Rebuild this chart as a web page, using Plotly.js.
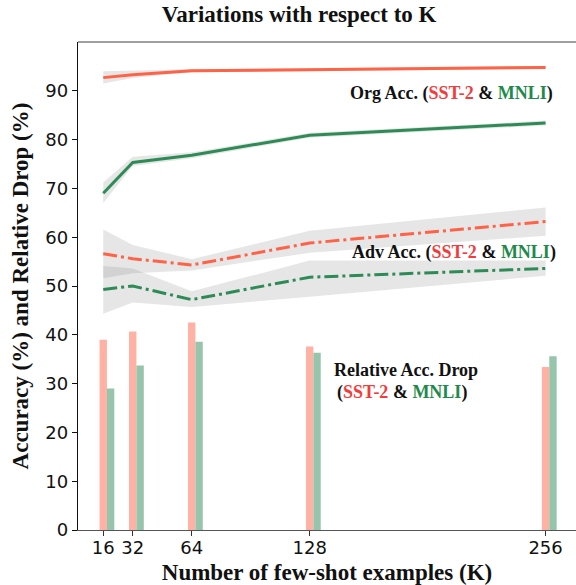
<!DOCTYPE html>
<html>
<head>
<meta charset="utf-8">
<script src="https://cdn.plot.ly/plotly-3.0.1.min.js"></script>
<style>html,body{margin:0;padding:0;background:#fff;}#chart{width:576px;height:585px;}</style>
</head>
<body>
<div id="chart"></div>
<script>
const K = [16, 32, 64, 128, 256];
const xTickLabels = ['16', '32', '64', '128', '256'];
const yTickVals = [0, 10, 20, 30, 40, 50, 60, 70, 80, 90];

const orgSST2   = [92.7, 93.3, 94.1, 94.3, 94.8];
const orgSST2Lo = [91.5, 92.6, 93.8, 94.0, 94.5];
const orgSST2Hi = [94.0, 94.1, 94.4, 94.6, 95.1];

const orgMNLI   = [69.0, 75.3, 76.8, 80.9, 83.4];
const orgMNLILo = [67.0, 74.6, 76.2, 80.4, 82.9];
const orgMNLIHi = [71.2, 76.5, 77.4, 81.4, 83.9];

const advSST2   = [56.6, 55.6, 54.3, 58.8, 63.2];
const advSST2Lo = [51.6, 52.6, 53.2, 56.8, 60.3];
const advSST2Hi = [61.6, 58.4, 55.5, 61.3, 66.1];

const advMNLI   = [49.3, 50.0, 47.2, 51.8, 53.6];
const advMNLILo = [44.3, 46.6, 45.7, 47.8, 52.1];
const advMNLIHi = [54.1, 53.6, 48.9, 55.2, 55.2];

const dropSST2 = [39.0, 40.7, 42.5, 37.6, 33.4];
const dropMNLI = [29.0, 33.7, 38.6, 36.3, 35.6];

const RED = 'rgb(255,99,71)';
const GREEN = 'rgb(46,139,87)';
const TXT_RED = '#f23c3c';
const TXT_GREEN = '#1e8a4c';
const SERIF = 'Liberation Serif';

function band(lo, hi) {
  return {
    type: 'scatter', mode: 'lines',
    x: K.concat(K.slice().reverse()),
    y: hi.concat(lo.slice().reverse()),
    fill: 'toself', fillcolor: 'rgba(128,128,128,0.2)',
    line: {width: 0}, hoverinfo: 'skip', showlegend: false
  };
}
function line(y, color, dash) {
  return {type: 'scatter', mode: 'lines', x: K, y: y,
    line: {color: color, width: 3, dash: dash}, showlegend: false};
}

const traces = [
  {type: 'bar', x: K, y: dropSST2, width: 4, offset: -2, marker: {color: 'rgb(255,177,163)', line: {width: 0}}, showlegend: false},
  {type: 'bar', x: K, y: dropMNLI, width: 4, offset: 2, marker: {color: 'rgb(150,197,171)', line: {width: 0}}, showlegend: false},
  band(orgSST2Lo, orgSST2Hi),
  band(orgMNLILo, orgMNLIHi),
  band(advSST2Lo, advSST2Hi),
  band(advMNLILo, advMNLIHi),
  line(orgSST2, RED, 'solid'),
  line(orgMNLI, GREEN, 'solid'),
  line(advSST2, RED, '14px,4px,3px,4px'),
  line(advMNLI, GREEN, '14px,4px,3px,4px')
];

const pair = '(<span style="color:' + TXT_RED + '">SST-2</span> &amp; <span style="color:' + TXT_GREEN + '">MNLI</span>)';
const annFont = {family: SERIF, size: 18, color: '#111', weight: 'bold'};

const layout = {
  width: 576, height: 585,
  margin: {l: 78, r: 0, t: 42, b: 55},
  paper_bgcolor: '#fff', plot_bgcolor: '#fff',
  barmode: 'overlay',
  showlegend: false,
  title: {text: 'Variations with respect to K', x: 0.444, xref: 'paper', xanchor: 'center',
          y: 0.976, yref: 'container', yanchor: 'middle',
          font: {family: SERIF, size: 23, color: '#111', weight: 'bold'}},
  xaxis: {range: [2.3, 272.5], tickvals: K, ticktext: xTickLabels,
          showgrid: false, zeroline: false, showline: true, linecolor: '#555', linewidth: 1.3,
          ticks: 'outside', ticklen: 5, tickcolor: '#333', tickwidth: 1, ticklabelstandoff: -4,
          tickfont: {family: 'DejaVu Sans', size: 18, color: '#111'},
          title: {text: 'Number of few-shot examples (K)', standoff: 9,
                  font: {family: SERIF, size: 23, color: '#111', weight: 'bold'}}},
  yaxis: {range: [0, 100], tickvals: yTickVals,
          showgrid: false, zeroline: false, showline: true, linecolor: '#111', linewidth: 1.3,
          ticks: 'outside', ticklen: 5, tickcolor: '#111', tickwidth: 1,
          tickfont: {family: 'DejaVu Sans', size: 18, color: '#111'},
          title: {text: 'Accuracy (%) and Relative Drop (%)', standoff: 10,
                  font: {family: SERIF, size: 23, color: '#111', weight: 'bold'}}},
  shapes: [{type: 'line', xref: 'paper', yref: 'paper', x0: 0, x1: 1, y0: 1, y1: 1,
            line: {color: '#808080', width: 1.5}}],
  annotations: [
    {xref: 'x', yref: 'y', x: 205, y: 89.4, xanchor: 'center', yanchor: 'middle', showarrow: false,
     text: 'Org Acc. ' + pair, font: annFont},
    {xref: 'x', yref: 'y', x: 206.3, y: 56.8, xanchor: 'center', yanchor: 'middle', showarrow: false,
     text: 'Adv Acc. ' + pair, font: annFont},
    {xref: 'x', yref: 'y', x: 140.1, y: 32.8, xanchor: 'left', yanchor: 'middle', showarrow: false,
     text: 'Relative Acc. Drop', font: annFont},
    {xref: 'x', yref: 'y', x: 141.7, y: 28.1, xanchor: 'left', yanchor: 'middle', showarrow: false,
     text: pair, font: annFont}
  ]
};

Plotly.newPlot('chart', traces, layout, {displayModeBar: false, staticPlot: true});
</script>
</body>
</html>
